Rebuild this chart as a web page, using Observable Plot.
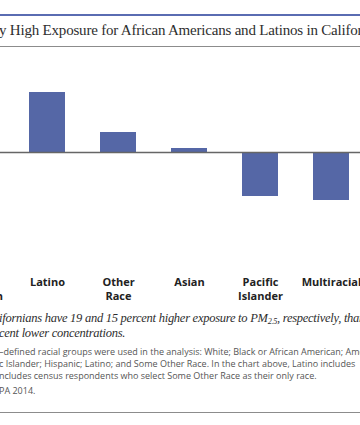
<!DOCTYPE html>
<html>
<head>
<meta charset="utf-8">
<script src="https://cdn.jsdelivr.net/npm/d3@7"></script>
<script src="https://cdn.jsdelivr.net/npm/@observablehq/plot@0.6"></script>
<style>
  html, body { margin: 0; padding: 0; background: #fff; }
  #frame { position: relative; width: 360px; height: 425px; overflow: hidden; background: #fff; }
  .rule { position: absolute; left: 0; width: 400px; }
  .line { position: absolute; white-space: nowrap; }
  .title { font-family: "Liberation Serif", serif; font-size: 15px; letter-spacing: -0.2px; color: #2e2e2e; }
  .cap { font-family: "Liberation Serif", serif; font-style: italic; font-size: 12.5px; letter-spacing: -0.26px; color: #2e2e2e; }
  .note { font-family: "Open Sans", sans-serif; font-size: 9px; color: #555; }
  #chart { position: absolute; left: -80px; top: 60px; width: 460px; }
  #chart svg { max-width: none !important; }
  sub { font-size: 0.65em; vertical-align: -0.25em; line-height: 0; }
</style>
</head>
<body>
<div id="frame">
  <div class="rule" style="top:14px;height:2px;background:#5a6cb2"></div>
  <div class="line title" style="left:-1px;top:22px">y High Exposure for African Americans and Latinos in California</div>
  <div class="rule" style="top:46px;height:1px;background:#8c8c8c"></div>
  <div id="chart"></div>
  <div class="line cap" style="left:-1px;top:311px">ifornians have 19 and 15 percent higher exposure to PM<sub>2.5</sub>, respectively, than</div>
  <div class="line cap" style="left:-1px;top:326px">cent lower concentrations.</div>
  <div class="line note" style="left:-1px;top:345px">–defined racial groups were used in the analysis: White; Black or African American; American</div>
  <div class="line note" style="left:-1px;top:357px">c Islander; Hispanic; Latino; and Some Other Race. In the chart above, Latino includes</div>
  <div class="line note" style="left:-1px;top:369px">ncludes census respondents who select Some Other Race as their only race.</div>
  <div class="line note" style="left:-1px;top:384px">PA 2014.</div>
  <div class="rule" style="top:412px;height:1px;background:#8c8c8c"></div>
</div>
<script>
const categories = ["African\nAmerican", "Latino", "Other\nRace", "Asian", "Pacific\nIslander", "Multiracial"];
const values = [19, 15, 5, 1, -11, -12];

const data = categories.map((c, i) => ({category: c, value: values[i]}));

const chart = Plot.plot({
  width: 460,
  height: 262,
  marginLeft: 0,
  marginRight: 0,
  marginTop: 0,
  marginBottom: 50,
  style: {background: "transparent", overflow: "visible"},
  x: {domain: categories, range: [3.2, 464], padding: 0.49, label: null},
  y: {domain: [-30, 23], axis: null},
  marks: [
    Plot.barY(data, {x: "category", y: "value", fill: "#5567a6"}),
    Plot.ruleY([0], {stroke: "#666", strokeWidth: 1.5}),
    Plot.axisX({
      tickSize: 0,
      tickPadding: 4,
      fontSize: 11,
      fontFamily: "'Open Sans', sans-serif",
      fontWeight: 700,
      fill: "#222",
      lineHeight: 1.25,
      label: null
    })
  ]
});
chart.style.maxWidth = "none";
document.getElementById("chart").appendChild(chart);
</script>
</body>
</html>
